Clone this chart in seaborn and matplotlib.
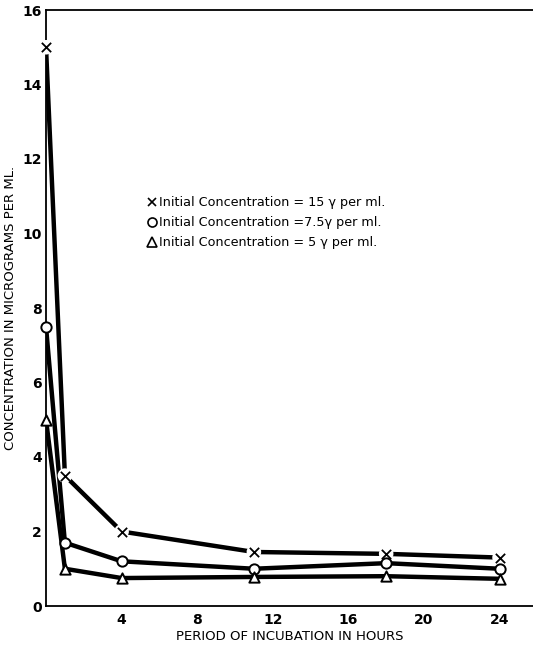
import matplotlib
matplotlib.use("Agg")
import matplotlib.pyplot as plt
import seaborn as sns
import pandas as pd
from matplotlib.lines import Line2D
from matplotlib.ticker import MultipleLocator

# ---- data ----
hours = [0, 1, 4, 11, 18, 24]
conc_15 = [15.0, 3.5, 2.0, 1.45, 1.4, 1.3]
conc_75 = [7.5, 1.7, 1.2, 1.0, 1.15, 1.0]
conc_5 = [5.0, 1.0, 0.75, 0.78, 0.8, 0.73]
series_names = ["15", "7.5", "5"]
legend_labels = [
    "Initial Concentration = 15 \u03b3 per ml.",
    "Initial Concentration =7.5\u03b3 per ml.",
    "Initial Concentration = 5 \u03b3 per ml.",
]
x_major = [4, 8, 12, 16, 20, 24]
y_major = [0, 2, 4, 6, 8, 10, 12, 14, 16]

rows = []
for name, vals in zip(series_names, [conc_15, conc_75, conc_5]):
    for h, v in zip(hours, vals):
        rows.append({"hours": h, "conc": v, "series": name})
df = pd.DataFrame(rows)

sns.set_style("white")
plt.rcParams["font.family"] = ["DejaVu Sans"]
plt.rcParams["text.color"] = "black"
plt.rcParams["axes.labelcolor"] = "black"
plt.rcParams["xtick.color"] = "black"
plt.rcParams["ytick.color"] = "black"

fig = plt.figure(figsize=(5.33, 6.46), dpi=100)
ax = fig.add_axes([46 / 533, 40 / 646, (533 - 46) / 533, 596 / 646])

# lines
sns.lineplot(data=df, x="hours", y="conc", hue="series",
             palette=["black"] * 3, linewidth=3.2, legend=False, ax=ax,
             zorder=2)

# white gaps around the x markers
d15 = df[df["series"] == "15"]
sns.scatterplot(data=d15, x="hours", y="conc", marker="o", s=110,
                color="white", edgecolor="none", legend=False, ax=ax,
                zorder=3, clip_on=False)
sns.scatterplot(data=d15, x="hours", y="conc", marker="x", s=45,
                color="black", linewidth=1.3, legend=False, ax=ax, zorder=4,
                clip_on=False)

d75 = df[df["series"] == "7.5"]
sns.scatterplot(data=d75, x="hours", y="conc", marker="o", s=55,
                facecolor="white", edgecolor="black", linewidth=1.4,
                legend=False, ax=ax, zorder=4, clip_on=False)
d5 = df[df["series"] == "5"]
sns.scatterplot(data=d5, x="hours", y="conc", marker="^", s=55,
                facecolor="white", edgecolor="black", linewidth=1.4,
                legend=False, ax=ax, zorder=4, clip_on=False)

ax.set_xlim(0, 25.77)
ax.set_ylim(0, 16)

for s in ["left", "bottom", "top"]:
    ax.spines[s].set_visible(True)
    ax.spines[s].set_linewidth(1.3)
    ax.spines[s].set_color("black")
ax.spines["right"].set_visible(False)

ax.set_xticks(x_major)
ax.set_xticklabels([str(v) for v in x_major])
ax.xaxis.set_minor_locator(MultipleLocator(2))
ax.set_yticks(y_major)
ax.set_yticklabels([str(v) for v in y_major])
ax.yaxis.set_minor_locator(MultipleLocator(1))
ax.tick_params(which="both", direction="in", length=5, width=1.2,
               color="black", top=False, right=False)
ax.tick_params(axis="x", which="major", labelsize=10, pad=5)
ax.tick_params(axis="y", which="major", labelsize=10, pad=3)
for lab in ax.get_xticklabels() + ax.get_yticklabels():
    lab.set_fontweight("bold")

ax.set_xlabel("PERIOD OF INCUBATION IN HOURS", fontsize=9.5, labelpad=2,
              fontweight="medium")
ax.set_ylabel("CONCENTRATION IN MICROGRAMS PER ML.", fontsize=9.5,
              labelpad=4, fontweight="medium")

handles = [
    Line2D([], [], ls="none", marker="x", color="black", ms=6, mew=1.2),
    Line2D([], [], ls="none", marker="o", mfc="white", mec="black", ms=6.5, mew=1.2),
    Line2D([], [], ls="none", marker="^", mfc="white", mec="black", ms=6.5, mew=1.2),
]
ax.legend(handles, legend_labels, loc="upper left",
          bbox_to_anchor=((148 - 46) / 487, (606 - 196) / 596),
          frameon=False, fontsize=9.2, handlelength=0.7, handletextpad=0.15,
          labelspacing=0.55, borderpad=0, borderaxespad=0)

fig.savefig("out.png", dpi=100)
